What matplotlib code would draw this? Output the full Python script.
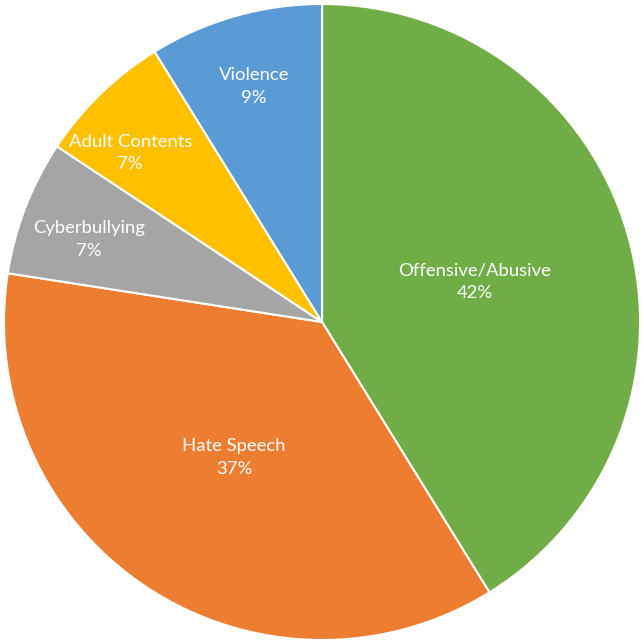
import numpy as np
import matplotlib.pyplot as plt

# Share of flagged content by category (counts, shown as %)
categories = ['Offensive/Abusive', 'Hate Speech', 'Cyberbullying', 'Adult Contents', 'Violence']
values = [42, 37, 7, 7, 9]
colors = ['#70AD47', '#ED7D31', '#A5A5A5', '#FFC000', '#5B9BD5']
# label radius and small angular nudge (degrees) for each slice
label_dist = [0.50, 0.50, 0.78, 0.81, 0.78]
label_nudge = [0, 0, 1, 4, 0]

fig = plt.figure(figsize=(6.41, 6.43), dpi=100)
ax = fig.add_axes([0, 0, 1, 1])

wedges, _ = ax.pie(values, colors=colors, startangle=90, counterclock=False,
                   radius=1.0, wedgeprops=dict(edgecolor='white', linewidth=1.5))

# Category name and value inside each slice
for w, name, v, d, n in zip(wedges, categories, values, label_dist, label_nudge):
    ang = np.deg2rad((w.theta1 + w.theta2) / 2 + n)
    x, y = d * np.cos(ang), d * np.sin(ang)
    ax.text(x, y - 0.01, f'{name}\n{v}%', ha='center', va='center', color='white',
            fontsize=13.3, family='Lato', linespacing=1.5)

ax.set_xlim(-1.0126, 1.003)
ax.set_ylim(-1.0094, 1.0126)
ax.set_aspect('auto')
ax.axis('off')

fig.savefig('out.png', dpi=100, facecolor='white')
